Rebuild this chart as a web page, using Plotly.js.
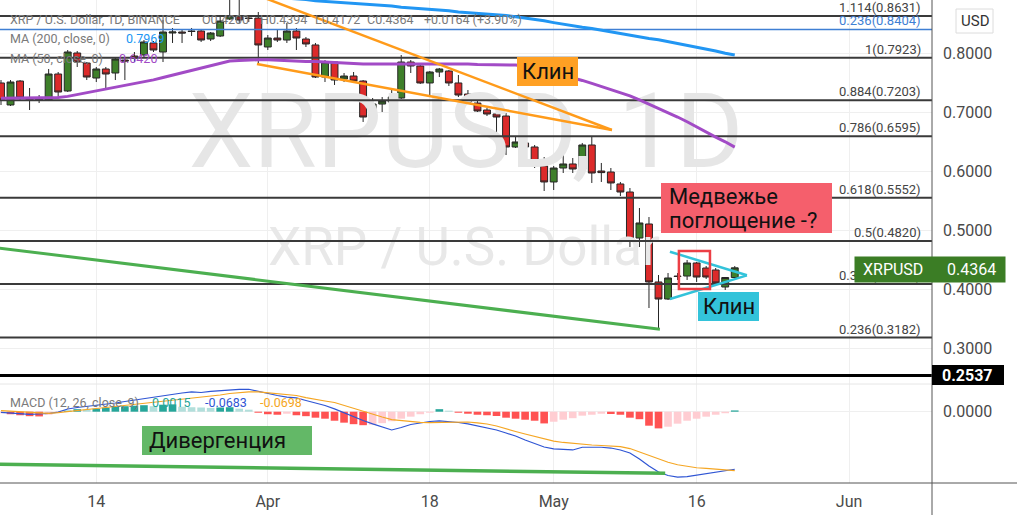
<!DOCTYPE html>
<html><head><meta charset="utf-8">
<script src="https://cdn.plot.ly/plotly-3.0.1.min.js"></script>
<style>html,body{margin:0;padding:0;background:#fff;} #chart{width:1017px;height:515px;}</style>
</head><body><div id="chart"></div>
<script>
// ---------- DATA ----------
const dates = ['2022-03-04','2022-03-05','2022-03-06','2022-03-07','2022-03-08','2022-03-09','2022-03-10','2022-03-11','2022-03-12','2022-03-13',
'2022-03-14','2022-03-15','2022-03-16','2022-03-17','2022-03-18','2022-03-19','2022-03-20','2022-03-21','2022-03-22','2022-03-23',
'2022-03-24','2022-03-25','2022-03-26','2022-03-27','2022-03-28','2022-03-29','2022-03-30','2022-03-31',
'2022-04-01','2022-04-02','2022-04-03','2022-04-04','2022-04-05','2022-04-06','2022-04-07','2022-04-08','2022-04-09','2022-04-10',
'2022-04-11','2022-04-12','2022-04-13','2022-04-14','2022-04-15','2022-04-16','2022-04-17','2022-04-18','2022-04-19','2022-04-20',
'2022-04-21','2022-04-22','2022-04-23','2022-04-24','2022-04-25','2022-04-26','2022-04-27','2022-04-28','2022-04-29','2022-04-30',
'2022-05-01','2022-05-02','2022-05-03','2022-05-04','2022-05-05','2022-05-06','2022-05-07','2022-05-08','2022-05-09','2022-05-10',
'2022-05-11','2022-05-12','2022-05-13','2022-05-14','2022-05-15','2022-05-16','2022-05-17','2022-05-18','2022-05-19','2022-05-20'];

const openP = [0.7497,0.7124,0.7530,0.7242,0.7208,0.7208,0.7649,0.7361,0.8005,0.7835,
0.7581,0.7734,0.7666,0.7886,0.7954,0.7971,0.8175,0.8022,0.8344,0.8361,
0.8378,0.8378,0.8242,0.8293,0.8581,0.8615,0.8598,0.8598,0.8107,0.8259,
0.8225,0.8378,0.8242,0.8141,0.7598,0.7852,0.7564,0.7615,0.7530,0.6937,
0.7140,0.7174,0.7242,0.7852,0.7785,0.7497,0.7683,0.7700,0.7497,0.7310,
0.7157,0.7039,0.6971,0.6937,0.6412,0.6480,0.6412,0.6090,0.5819,0.6056,
0.6124,0.6039,0.6446,0.6005,0.5988,0.5785,0.5649,0.4869,0.5107,0.4124,
0.3835,0.4225,0.4225,0.4446,0.4361,0.4327,0.4039,0.4200];
const highP = [0.7547,0.7547,0.7547,0.7412,0.7293,0.7734,0.7683,0.8056,0.8039,0.7852,
0.7768,0.7768,0.7937,0.7937,0.8022,0.8225,0.8208,0.8564,0.8429,0.8395,
0.8429,0.8412,0.8361,0.8615,0.8950,0.8950,0.8649,0.8700,0.8310,0.8395,
0.8514,0.8429,0.8276,0.8175,0.7886,0.7869,0.7666,0.7683,0.7547,0.7242,
0.7259,0.7378,0.7971,0.7886,0.7819,0.7700,0.7751,0.7717,0.7632,0.7378,
0.7259,0.7073,0.6988,0.6988,0.6582,0.6548,0.6446,0.6242,0.6090,0.6276,
0.6225,0.6480,0.6598,0.6141,0.6056,0.5819,0.5717,0.5378,0.5225,0.4242,
0.4276,0.4276,0.4497,0.4463,0.4395,0.4361,0.4208,0.4394];
const lowP = [0.7124,0.7107,0.7208,0.7039,0.7157,0.7191,0.7259,0.7344,0.7768,0.7547,
0.7513,0.7412,0.7547,0.7547,0.7852,0.7937,0.8022,0.7852,0.8175,0.8175,
0.8293,0.8192,0.8208,0.8276,0.8564,0.8514,0.8530,0.7835,0.8056,0.8192,
0.8175,0.8056,0.8107,0.7581,0.7513,0.7463,0.7513,0.7513,0.6836,0.6920,
0.7005,0.7073,0.7225,0.7666,0.7480,0.7293,0.7598,0.7446,0.7259,0.7140,
0.7005,0.6937,0.6480,0.6276,0.6395,0.6327,0.6056,0.5666,0.5683,0.5971,
0.5971,0.6022,0.5802,0.5819,0.5683,0.5581,0.4717,0.4717,0.3683,0.3310,
0.3819,0.4158,0.4158,0.4124,0.4175,0.4073,0.3988,0.4172];
const closeP = [0.7208,0.7513,0.7242,0.7208,0.7225,0.7649,0.7344,0.8022,0.7852,0.7598,
0.7734,0.7649,0.7903,0.7869,0.7920,0.8192,0.8056,0.8361,0.8361,0.8344,
0.8370,0.8225,0.8344,0.8547,0.8632,0.8564,0.8590,0.8141,0.8259,0.8225,
0.8378,0.8259,0.8158,0.7598,0.7852,0.7547,0.7615,0.7530,0.6920,0.7140,
0.7191,0.7259,0.7852,0.7785,0.7497,0.7683,0.7734,0.7497,0.7293,0.7174,
0.7022,0.6971,0.6920,0.6412,0.6497,0.6412,0.6090,0.5819,0.6056,0.6124,
0.6039,0.6446,0.5971,0.5978,0.5802,0.5649,0.4852,0.5124,0.4124,0.3835,
0.4192,0.4217,0.4446,0.4208,0.4208,0.4107,0.4200,0.4364];

const ma50 = [0.724,0.724,0.724,0.724,0.724,0.724,0.725,0.727,0.730,0.733,
0.736,0.739,0.742,0.745,0.748,0.751,0.755,0.759,0.763,0.767,
0.771,0.775,0.779,0.783,0.787,0.788,0.789,0.789,0.789,0.788,
0.787,0.786,0.786,0.786,0.785,0.785,0.784,0.783,0.782,0.782,
0.782,0.782,0.783,0.783,0.783,0.783,0.783,0.782,0.782,0.782,
0.781,0.781,0.781,0.780,0.780,0.778,0.775,0.771,0.767,0.763,
0.759,0.754,0.749,0.744,0.739,0.734,0.728,0.721,0.714,0.707,
0.699,0.692,0.684,0.675,0.667,0.658,0.650,0.641];
const ma200 = [null,null,null,null,null,null,null,null,null,null,
null,null,null,null,null,null,null,null,null,null,
null,null,null,null,null,null,null,null,0.896,0.895,
0.894,0.892,0.891,0.889,0.888,0.887,0.886,0.884,0.883,0.882,
0.881,0.880,0.878,0.877,0.876,0.874,0.873,0.872,0.870,0.869,
0.868,0.866,0.865,0.864,0.862,0.860,0.858,0.855,0.852,0.849,
0.847,0.844,0.842,0.839,0.836,0.833,0.831,0.828,0.825,0.823,
0.820,0.817,0.814,0.811,0.807,0.804,0.800,0.797];

const macdLine = [-0.0007,-0.0015,-0.0024,-0.0031,-0.0027,-0.0021,-0.0004,0.0032,0.0050,0.0062,
0.0074,0.0085,0.0103,0.0121,0.0139,0.0157,0.0174,0.0186,0.0204,0.0222,
0.0234,0.0228,0.0240,0.0251,0.0260,0.0265,0.0266,0.0240,0.0210,0.0192,
0.0174,0.0163,0.0133,0.0103,0.0074,0.0034,-0.0015,-0.0063,-0.0104,-0.0144,
-0.0181,-0.0217,-0.0187,-0.0152,-0.0134,-0.0116,-0.0108,-0.0114,-0.0128,-0.0144,
-0.0170,-0.0199,-0.0217,-0.0253,-0.0288,-0.0336,-0.0377,-0.0419,-0.0442,-0.0451,
-0.0454,-0.0422,-0.0419,-0.0422,-0.0431,-0.0454,-0.0490,-0.0561,-0.0644,-0.0715,
-0.0757,-0.0775,-0.0769,-0.0751,-0.0733,-0.0715,-0.0703,-0.0683];
const signalLine = [0.0012,0.0005,-0.0004,-0.0013,-0.0018,-0.0019,-0.0012,0.0002,0.0017,0.0026,
0.0038,0.0050,0.0062,0.0074,0.0082,0.0097,0.0115,0.0127,0.0139,0.0151,
0.0163,0.0172,0.0186,0.0198,0.0216,0.0230,0.0236,0.0234,0.0222,0.0212,
0.0202,0.0192,0.0168,0.0145,0.0127,0.0109,0.0074,0.0038,0.0002,-0.0027,
-0.0063,-0.0093,-0.0104,-0.0116,-0.0126,-0.0129,-0.0126,-0.0120,-0.0120,-0.0122,
-0.0132,-0.0146,-0.0170,-0.0205,-0.0235,-0.0265,-0.0294,-0.0324,-0.0348,-0.0365,
-0.0377,-0.0386,-0.0395,-0.0401,-0.0410,-0.0415,-0.0437,-0.0478,-0.0520,-0.0558,
-0.0600,-0.0629,-0.0647,-0.0665,-0.0672,-0.0681,-0.0687,-0.0698];
const macdHist = [-0.0018,-0.0030,-0.0042,-0.0053,-0.0056,-0.0036,-0.0012,0.0012,0.0030,0.0026,
0.0036,0.0047,0.0059,0.0065,0.0071,0.0077,0.0065,0.0083,0.0087,0.0059,
0.0053,0.0050,0.0045,0.0050,0.0053,0.0036,0.0024,-0.0012,-0.0030,-0.0036,
-0.0024,-0.0042,-0.0053,-0.0071,-0.0083,-0.0107,-0.0130,-0.0148,-0.0160,-0.0154,
-0.0136,-0.0113,-0.0083,-0.0059,-0.0030,-0.0012,0.0030,0.0012,-0.0012,-0.0024,
-0.0036,-0.0042,-0.0051,-0.0071,-0.0083,-0.0095,-0.0107,-0.0139,-0.0119,-0.0095,
-0.0077,-0.0047,-0.0036,-0.0024,-0.0027,-0.0036,-0.0071,-0.0089,-0.0166,-0.0198,
-0.0178,-0.0142,-0.0107,-0.0083,-0.0059,-0.0036,-0.0018,0.0015];

const fibPrices = [0.8631,0.7923,0.7203,0.6595,0.5552,0.4820,0.4088,0.3182];
const fibLabels = ['1.114(0.8631)','1(0.7923)','0.884(0.7203)','0.786(0.6595)','0.618(0.5552)','0.5(0.4820)','0.382(0.4088)','0.236(0.3182)'];
const fibBluePrice = 0.8404, fibBlueLabel = '0.236(0.8404)';
const supportPrice = 0.2537;

const tickDates = ['2022-03-14','2022-04-01','2022-04-18','2022-05-01','2022-05-16','2022-06-01'];
const tickLabels = ['14','Apr','18','May','16','Jun'];

const orangeUpperX = ['2022-03-31 00:00','2022-05-07 02:38'], orangeUpperY = [0.8978,0.6700];
const orangeLowerX = ['2022-03-30 20:40','2022-05-07 02:38'], orangeLowerY = [0.7819,0.6700];
const cyanUpperX = ['2022-05-13 04:48','2022-05-21 06:43'], cyanUpperY = [0.4637,0.4237];
const cyanLowerX = ['2022-05-13 04:48','2022-05-21 06:43'], cyanLowerY = [0.3836,0.4237];
const greenPriceX = ['2022-03-03 00:00','2022-05-12 03:36'], greenPriceY = [0.4715,0.3322];
const greenMacdX = ['2022-03-03 00:00','2022-05-12 16:48'], greenMacdY = [-0.0623,-0.0731];
const engulfBoxX = ['2022-05-14 03:22','2022-05-17 09:36'], engulfBoxY = [0.4005,0.4649];

const lastPrice = '0.4364';
const header = {title:'XRP / U.S. Dollar, 1D, BINANCE', o:'O0.4200', h:'H0.4394', l:'L0.4172', c:'C0.4364', chg:'+0.0164 (+3.90%)'};
const maLegend = {ma200:'MA (200, close, 0)', ma200v:'0.7969', ma50:'MA (50, close, 0)', ma50v:'0.6420'};
const macdLegend = {name:'MACD (12, 26, close, 9)', hist:'0.0015', macd:'-0.0683', signal:'-0.0698'};

// ---------- LAYOUT HELPERS ----------
const W = 932, H = 483;
const px = x => x / W;
const py = y => (H - y) / H;
const FONT = 'Roboto, "Noto Sans", sans-serif';
const xRange = ['2022-03-03 21:29','2022-06-09 16:48'];

const traces = [];
traces.push({type:'scatter', mode:'text', x:['2022-04-21 19:12'], y:[0.6514], text:['XRPUSD, 1D'],
  textfont:{family:FONT, size:103, color:'#e6e6e6'}, textposition:'middle center', hoverinfo:'skip', showlegend:false, cliponaxis:false});
traces.push({type:'scatter', mode:'text', x:['2022-04-21 14:00'], y:[0.4632], text:['XRP / U.S. Dollar'],
  textfont:{family:FONT, size:53, color:'#e8e8e8'}, textposition:'middle center', hoverinfo:'skip', showlegend:false, cliponaxis:false});
fibPrices.forEach(p => traces.push({type:'scatter', mode:'lines', x:xRange, y:[p,p], line:{color:'#3a3a3a', width:2}, hoverinfo:'skip', showlegend:false}));
traces.push({type:'scatter', mode:'lines', x:xRange, y:[fibBluePrice,fibBluePrice], line:{color:'#3f7fd4', width:1.5}, hoverinfo:'skip', showlegend:false});
traces.push({type:'scatter', mode:'lines', x:xRange, y:[supportPrice,supportPrice], line:{color:'#000', width:3}, hoverinfo:'skip', showlegend:false});
traces.push({type:'scatter', mode:'lines', x:dates, y:ma200, line:{color:'#2196f3', width:3}, hoverinfo:'skip', showlegend:false});
traces.push({type:'scatter', mode:'lines', x:dates, y:ma50, line:{color:'#a24bc6', width:3}, hoverinfo:'skip', showlegend:false});
traces.push({type:'candlestick', x:dates, open:openP, high:highP, low:lowP, close:closeP,
  increasing:{line:{color:'#262626', width:1}, fillcolor:'#3e7f2a'},
  decreasing:{line:{color:'#262626', width:1}, fillcolor:'#dc2a2a'},
  hoverinfo:'skip', showlegend:false});
traces.push({type:'scatter', mode:'lines', x:orangeUpperX, y:orangeUpperY, line:{color:'#ff9b1a', width:2.5}, hoverinfo:'skip', showlegend:false});
traces.push({type:'scatter', mode:'lines', x:orangeLowerX, y:orangeLowerY, line:{color:'#ff9b1a', width:2.5}, hoverinfo:'skip', showlegend:false});
traces.push({type:'scatter', mode:'lines', x:cyanUpperX, y:cyanUpperY, line:{color:'#33c3da', width:2.5}, hoverinfo:'skip', showlegend:false});
traces.push({type:'scatter', mode:'lines', x:cyanLowerX, y:cyanLowerY, line:{color:'#33c3da', width:2.5}, hoverinfo:'skip', showlegend:false});
traces.push({type:'scatter', mode:'lines', x:greenPriceX, y:greenPriceY, line:{color:'#4caf50', width:3}, hoverinfo:'skip', showlegend:false});
const histColors = macdHist.map((v,i) => {
  const prev = i === 0 ? v : macdHist[i-1];
  if (v >= 0) return v >= prev ? '#26a69a' : '#b2dfdb';
  return (i > 0 && v <= prev) ? '#ff5252' : '#ffcdd2';
});
traces.push({type:'bar', x:dates, y:macdHist, yaxis:'y2', marker:{color:histColors, line:{width:0}}, width:0.8*86400000, hoverinfo:'skip', showlegend:false});
traces.push({type:'scatter', mode:'lines', x:dates, y:macdLine, yaxis:'y2', line:{color:'#2f55d4', width:1.2}, hoverinfo:'skip', showlegend:false});
traces.push({type:'scatter', mode:'lines', x:dates, y:signalLine, yaxis:'y2', line:{color:'#f5a623', width:1.2}, hoverinfo:'skip', showlegend:false});
traces.push({type:'scatter', mode:'lines', x:greenMacdX, y:greenMacdY, yaxis:'y2', line:{color:'#4caf50', width:3.5}, hoverinfo:'skip', showlegend:false});

const shapes = [
  {type:'line', xref:'paper', yref:'paper', x0:0, x1:1, y0:py(384), y1:py(384), line:{color:'#e6e6e6', width:1}},
  {type:'line', xref:'paper', yref:'paper', x0:0, x1:1017/W, y0:0, y1:0, line:{color:'#555', width:1}},
  {type:'line', xref:'paper', yref:'paper', x0:1, x1:1, y0:py(515), y1:py(0), line:{color:'#555', width:1}},
  {type:'rect', xref:'x', yref:'y', x0:engulfBoxX[0], x1:engulfBoxX[1], y0:engulfBoxY[0], y1:engulfBoxY[1], line:{color:'#ec3f45', width:2.5}},
  {type:'rect', xref:'paper', yref:'paper', x0:px(517), x1:px(578), y0:py(86), y1:py(57), fillcolor:'#ffa023', line:{width:0}},
  {type:'rect', xref:'paper', yref:'paper', x0:px(661), x1:px(832), y0:py(233), y1:py(183), fillcolor:'#f55f6c', line:{width:0}},
  {type:'rect', xref:'paper', yref:'paper', x0:px(698), x1:px(759), y0:py(321), y1:py(292), fillcolor:'#33c3da', line:{width:0}},
  {type:'rect', xref:'paper', yref:'paper', x0:px(142), x1:px(312), y0:py(455), y1:py(426), fillcolor:'#63b867', line:{width:0}},
  {type:'rect', xref:'paper', yref:'paper', x0:px(956), x1:px(993), y0:py(33), y1:py(9), fillcolor:'#fff', line:{color:'#dcdcdc', width:1}},
  {type:'rect', xref:'paper', yref:'paper', x0:px(932), x1:px(1004), y0:py(385), y1:py(365), fillcolor:'#000', line:{width:0}}
];

const ann = [];
const txt = (x, y, text, opts={}) => Object.assign({xref:'paper', yref:'paper', x:px(x), y:py(y), text, showarrow:false,
  xanchor:'left', yanchor:'middle', font:{family:FONT, size:12.5, color:'#7a7a7a'}}, opts);
ann.push(txt(8, 19, header.title));
ann.push(txt(200, 19, header.o));
ann.push(txt(258, 19, header.h));
ann.push(txt(313, 19, header.l));
ann.push(txt(365, 19, header.c));
ann.push(txt(422, 19, header.chg));
ann.push(txt(8, 38, maLegend.ma200));
ann.push(txt(124, 38, maLegend.ma200v, {font:{family:FONT, size:12.5, color:'#2196f3'}}));
ann.push(txt(8, 58, maLegend.ma50));
ann.push(txt(117, 58, maLegend.ma50v, {font:{family:FONT, size:12.5, color:'#a24bc6'}}));
ann.push(txt(8, 402, macdLegend.name));
ann.push(txt(150, 402, macdLegend.hist, {font:{family:FONT, size:12.5, color:'#26a69a'}}));
ann.push(txt(203, 402, macdLegend.macd, {font:{family:FONT, size:12.5, color:'#2f55d4'}}));
ann.push(txt(258, 402, macdLegend.signal, {font:{family:FONT, size:12.5, color:'#f5a623'}}));
fibPrices.forEach((p,i) => ann.push({xref:'paper', yref:'y', x:px(922), y:p, text:fibLabels[i], showarrow:false,
  xanchor:'right', yanchor:'bottom', borderpad:0, font:{family:FONT, size:13, color:'#444'}}));
ann.push({xref:'paper', yref:'y', x:px(922), y:fibBluePrice, text:fibBlueLabel, showarrow:false,
  xanchor:'right', yanchor:'bottom', borderpad:0, font:{family:FONT, size:13, color:'#3f7fd4'}});
ann.push({xref:'paper', yref:'paper', x:px(854), y:py(269.5), xanchor:'left', yanchor:'middle', text:' ', showarrow:false,
  width:150, height:25, bgcolor:'#3b7d25', borderpad:0, font:{family:FONT, size:16, color:'#fff'}});
ann.push(txt(861, 269.5, 'XRPUSD', {font:{family:FONT, size:16, color:'#fff'}}));
ann.push(txt(945, 269.5, lastPrice, {font:{family:FONT, size:16, color:'#fff'}}));
ann.push(txt(968, 375, String(supportPrice.toFixed(4)), {xanchor:'center', font:{family:FONT, size:16, color:'#fff', weight:'bold'}}));
ann.push(txt(974.5, 21, 'USD', {xanchor:'center', font:{family:FONT, size:15, color:'#333'}}));
const lab = {family:FONT, size:22, color:'#111'};
ann.push(txt(547.5, 71.5, 'Клин', {xanchor:'center', font:lab}));
ann.push(txt(667, 197, 'Медвежье', {font:lab}));
ann.push(txt(667, 220, 'поглощение -?', {font:lab}));
ann.push(txt(729, 306.5, 'Клин', {xanchor:'center', font:lab}));
ann.push(txt(147, 440.5, 'Дивергенция', {font:lab}));

const layout = {
  width:1017, height:515, margin:{l:0, r:85, t:0, b:32},
  paper_bgcolor:'#fff', plot_bgcolor:'#fff', showlegend:false,
  boxgap:0.15, boxgroupgap:0.15,
  xaxis:{type:'date', anchor:'y2', range:xRange, tickvals:tickDates, ticktext:tickLabels, showgrid:true, gridcolor:'#efefef',
    zeroline:false, showline:false, ticks:'', tickfont:{family:FONT, size:16, color:'#4a4a4a'}, ticklabelstandoff:7,
    rangeslider:{visible:false}, fixedrange:true, automargin:false},
  yaxis:{domain:[py(384), 1], range:[0.23949, 0.89034], side:'right', dtick:0.1, tick0:0, tickformat:'.4f',
    showgrid:true, gridcolor:'#efefef', zeroline:false, showline:false, ticks:'', ticklabelstandoff:10,
    tickfont:{family:FONT, size:16, color:'#4a4a4a'}, fixedrange:true, automargin:false},
  yaxis2:{domain:[0, py(384)], range:[-0.08458, 0.03286], side:'right', tickvals:[0], ticktext:['0.0000'],
    showgrid:true, gridcolor:'#efefef', zeroline:false, showline:false, ticks:'', ticklabelstandoff:10,
    tickfont:{family:FONT, size:16, color:'#4a4a4a'}, fixedrange:true, automargin:false},
  shapes, annotations:ann
};
Plotly.newPlot('chart', traces, layout, {displayModeBar:false, staticPlot:true});
</script></body></html>
